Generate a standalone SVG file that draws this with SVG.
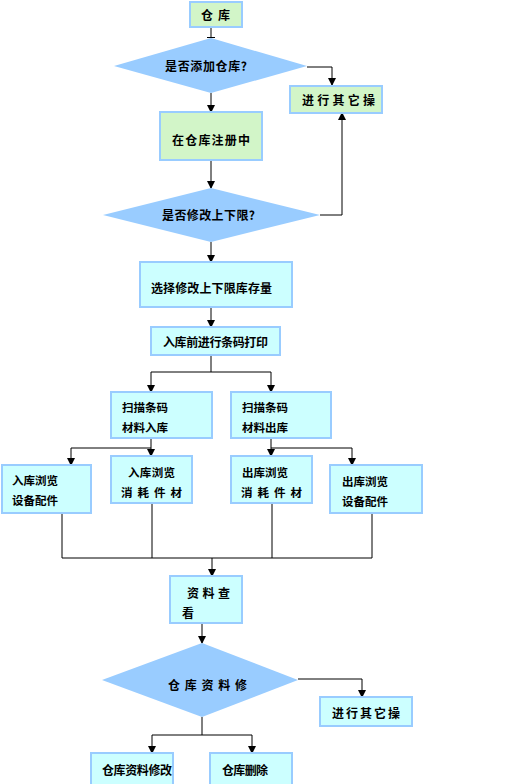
<svg xmlns="http://www.w3.org/2000/svg" width="512" height="784" viewBox="0 0 512 784">
<defs>
<marker id="arr" markerWidth="8" markerHeight="9" refX="7" refY="4" orient="auto" markerUnits="userSpaceOnUse">
<path d="M0,0 L8,4 L0,8 Z" fill="#000"/>
</marker>
<style>
.g{fill:#d2f5c8;stroke:#99ccff;stroke-width:2}
.c{fill:#ccffff;stroke:#99ccff;stroke-width:2}
.d{fill:#99ccff;stroke:none}
.t{font-family:"Noto Sans CJK SC","Noto Sans CJK JP",sans-serif;font-size:12px;font-weight:bold;fill:#000}
.s{font-size:11.5px}
.ln{fill:none;stroke:#000;stroke-width:1}
.a{marker-end:url(#arr)}
</style>
</defs>
<rect width="512" height="784" fill="#fff"/>
<g id="connectors">
<path class="ln" d="M211,27 V38 M207,37.5 H215"/>
<path class="ln a" d="M211,93 V112"/>
<path class="ln a" d="M307,67 H332 V85"/>
<path class="ln a" d="M211,160 V188"/>
<path class="ln a" d="M320,215 H342 V113"/>
<path class="ln a" d="M211,242 V262"/>
<path class="ln a" d="M211,307 V327"/>
<path class="ln" d="M211,355 V372 M151,372 H271"/>
<path class="ln a" d="M151,372 V392"/>
<path class="ln a" d="M271,372 V392"/>
<path class="ln a" d="M151,438 V448 H71 V465"/>
<path class="ln a" d="M151,448 V456"/>
<path class="ln a" d="M271,438 V448 H352 V465"/>
<path class="ln a" d="M271,448 V456"/>
<path class="ln" d="M62,513 V558 H372 V513 M152,503 V558 M272,503 V558"/>
<path class="ln a" d="M212,558 V576"/>
<path class="ln a" d="M202,623 V643"/>
<path class="ln a" d="M298,679 H362 V697"/>
<path class="ln" d="M202,717 V735 M152,735 H252"/>
<path class="ln a" d="M152,735 V753"/>
<path class="ln a" d="M252,735 V753"/>
</g>
<g id="n1"><rect class="g" x="190" y="2" width="52" height="25"/><text class="t" x="201" y="19.5" textLength="29">仓库</text></g>
<g id="n2"><polygon class="d" points="211,38 307,66 211,93 114,66"/><text class="t" x="165" y="70.5" textLength="82">是否添加仓库?</text></g>
<g id="n3"><rect class="g" x="290" y="86" width="92" height="27"/><text class="t" x="302" y="104.5" textLength="73">进行其它操</text></g>
<g id="n4"><rect class="g" x="160" y="112" width="102" height="48"/><text class="t" x="172" y="144.5" textLength="78">在仓库注册中</text></g>
<g id="n5"><polygon class="d" points="211,188 320,215 211,242 103,215"/><text class="t" x="162" y="219.5" textLength="93">是否修改上下限?</text></g>
<g id="n6"><rect class="c" x="140" y="262" width="152" height="45"/><text class="t" x="151" y="292.5" textLength="121">选择修改上下限库存量</text></g>
<g id="n7"><rect class="c" x="151" y="327" width="129" height="28"/><text class="t" x="163" y="346.5" textLength="105">入库前进行条码打印</text></g>
<g id="n8"><rect class="c" x="111" y="392" width="101" height="46"/><text class="t s" x="122" y="411.5" textLength="46">扫描条码</text><text class="t s" x="122" y="431.5" textLength="46">材料入库</text></g>
<g id="n9"><rect class="c" x="231" y="392" width="100" height="46"/><text class="t s" x="242" y="411.5" textLength="46">扫描条码</text><text class="t s" x="242" y="431.5" textLength="46">材料出库</text></g>
<g id="n10"><rect class="c" x="2" y="465" width="89" height="48"/><text class="t s" x="12" y="484.5" textLength="46">入库浏览</text><text class="t s" x="12" y="504.5" textLength="46">设备配件</text></g>
<g id="n11"><rect class="c" x="111" y="456" width="81" height="47"/><text class="t s" x="128" y="476.5" textLength="47">入库浏览</text><text class="t s" x="121" y="496.5" textLength="61">消 耗 件 材</text></g>
<g id="n12"><rect class="c" x="231" y="456" width="81" height="47"/><text class="t s" x="242" y="476.5" textLength="46">出库浏览</text><text class="t s" x="241" y="496.5" textLength="61">消 耗 件 材</text></g>
<g id="n13"><rect class="c" x="330" y="465" width="92" height="48"/><text class="t s" x="342" y="485.5" textLength="46">出库浏览</text><text class="t s" x="342" y="505.5" textLength="46">设备配件</text></g>
<g id="n14"><rect class="c" x="170" y="576" width="72" height="47"/><text class="t" x="187" y="597.5" textLength="43">资 料 查</text><text class="t" x="182" y="617.5">看</text></g>
<g id="n15"><polygon class="d" points="202,643 298,680 202,717 102,680"/><text class="t" x="168" y="689.5" textLength="79">仓 库 资 料 修</text></g>
<g id="n16"><rect class="c" x="320" y="697" width="92" height="29"/><text class="t" x="332" y="717.5" textLength="68">进行其它操</text></g>
<g id="n17"><rect class="c" x="91" y="753" width="82" height="34"/><text class="t" x="102" y="774.5" textLength="70">仓库资料修改</text></g>
<g id="n18"><rect class="c" x="210" y="753" width="82" height="34"/><text class="t" x="222" y="774.5" textLength="46">仓库删除</text></g>
</svg>
